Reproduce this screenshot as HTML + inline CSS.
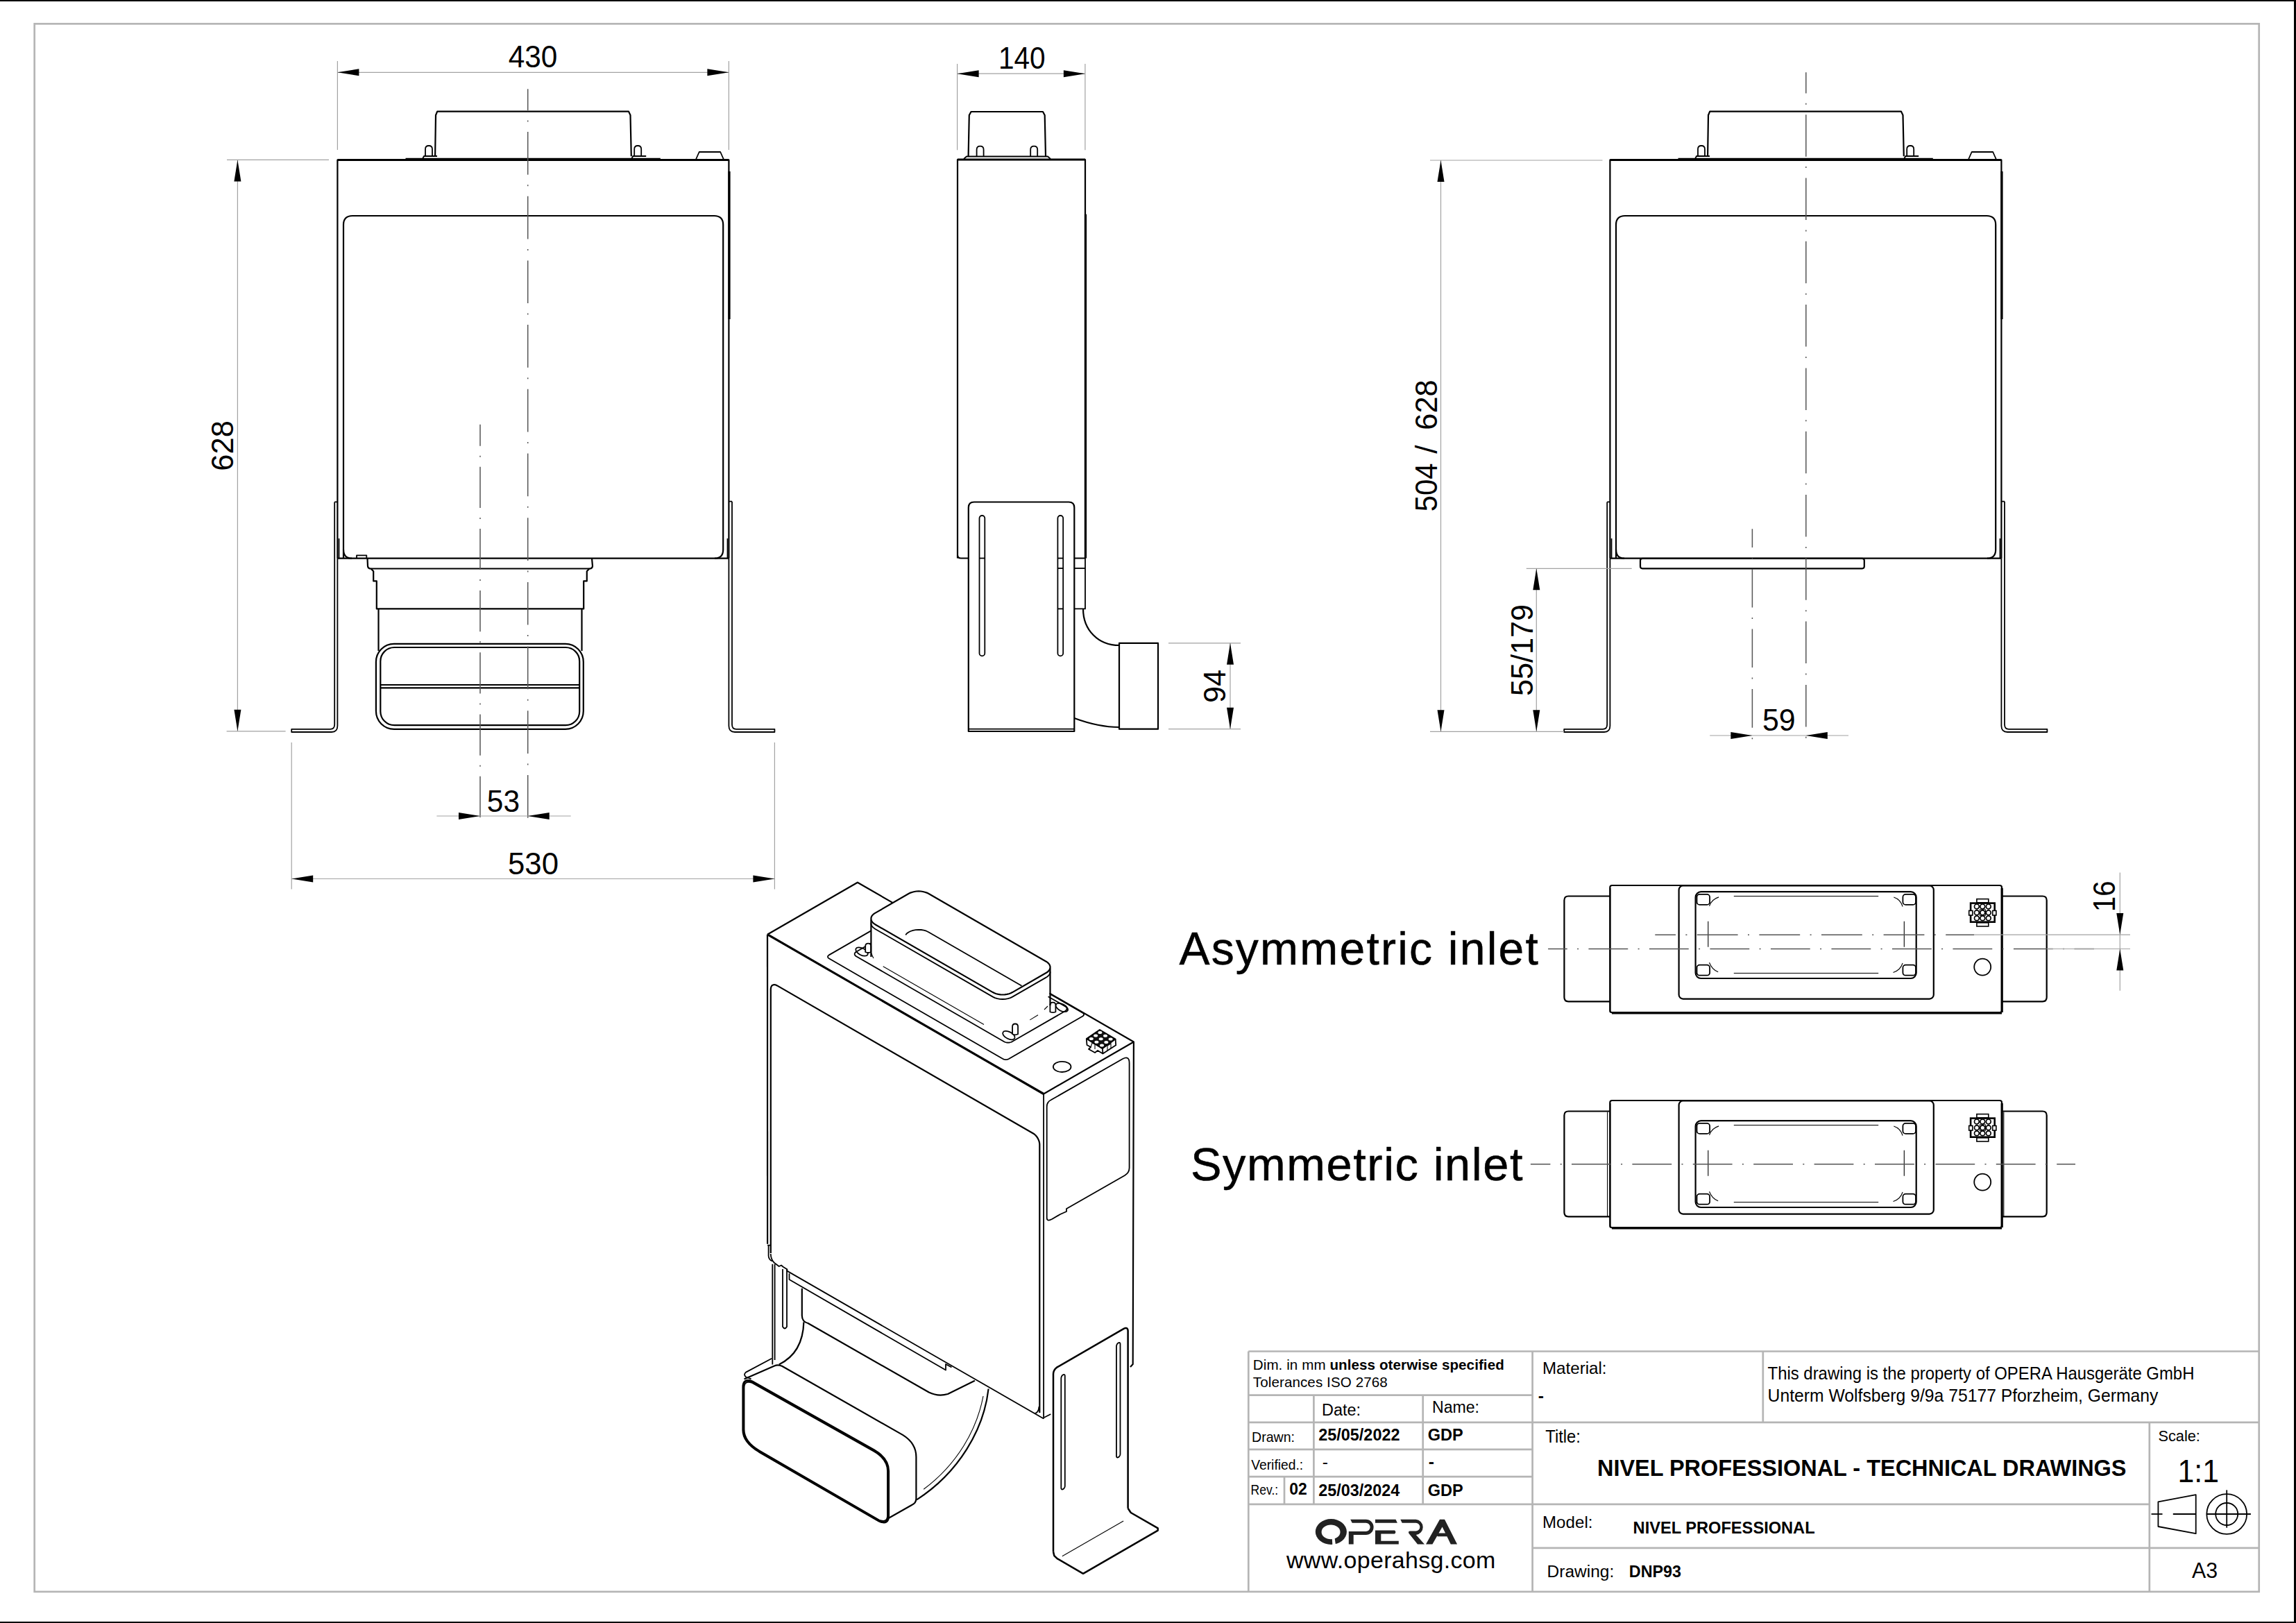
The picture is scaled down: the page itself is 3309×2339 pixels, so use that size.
<!DOCTYPE html>
<html><head><meta charset="utf-8"><style>
html,body{margin:0;padding:0;background:#fff;}
svg{display:block;}
text{font-family:"Liberation Sans",sans-serif;}
.o{stroke:#000;stroke-width:2.2;fill:none;stroke-linejoin:round;}
.o1{stroke:#000;stroke-width:1.8;fill:none;stroke-linejoin:round;}
.o3{stroke:#000;stroke-width:3.2;fill:none;}
.o25{stroke:#000;stroke-width:2.5;fill:none;stroke-linejoin:round;}
.t{stroke:#000;stroke-width:1.1;fill:none;}
.d{stroke:#a2a2a2;stroke-width:1.2;fill:none;}
.c{stroke:#555;stroke-width:1.5;fill:none;}
.g{stroke:#b5b5b5;stroke-width:2.7;fill:none;}
.ar{fill:#000;stroke:none;}
</style></head><body>
<svg width="3309" height="2339" viewBox="0 0 3309 2339">
<rect width="3309" height="2339" fill="#fff"/>
<rect x="0" y="0" width="3309" height="2" fill="#000"/>
<rect x="3306" y="0" width="3" height="2339" fill="#000"/>
<rect x="0" y="2337" width="3309" height="2" fill="#000"/>
<rect x="49.7" y="34.3" width="3206" height="2259.6" class="g" />
<g id="box">
<path d="M627.1 225.3 L628 166 L630.2 160.6 L906 160.6 L908.5 166 L909.8 225.3" class="o"/>
<path d="M584.5 228.6 L951.8 228.6" class="o1"/>
<path d="M613.0 225 L613.0 215 Q613.0 210 618.0 210 Q623.0 210 623.0 215 L623.0 225" class="o1"/>
<path d="M609.0 229 L611.0 225 L630.0 225" class="o1"/>
<path d="M914.2 225 L914.2 215 Q914.2 210 919.2 210 Q924.2 210 924.2 215 L924.2 225" class="o1"/>
<path d="M910.2 229 L912.2 225 L931.2 225" class="o1"/>
<path d="M1002.6 230.5 L1007.7 219 L1038.2 219 L1043.3 230.5" class="o1"/>
<path d="M486.4 804.7 L486.4 230.5 L1050.4 230.5 L1050.4 804.7" class="o"/>
<line x1="486.4" y1="230.5" x2="1050.4" y2="230.5" class="o3"/>
<line x1="1051.0" y1="247.0" x2="1051.0" y2="460.0" class="o3"/>
<path d="M495 804.7 L495 324 Q495 311 508 311 L1029.2 311 Q1042.2 311 1042.2 324 L1042.2 792 Q1042.2 804.7 1030 804.7" class="o"/>
<path d="M495 792 Q495 804.7 507 804.7" class="o"/>
<line x1="488.5" y1="776.0" x2="488.5" y2="804.7" class="o1"/>
<line x1="1048.5" y1="776.0" x2="1048.5" y2="804.7" class="o1"/>
<path d="M482.2 723.4 L486.4 723.4 M482.2 723.4 L482.2 1044 Q482.2 1050.8 476 1050.8 L420.2 1050.8 L420.2 1055 L478 1055 Q486.4 1055 486.4 1046 L486.4 804.7" class="o1"/>
<path d="M1055 722.7 L1050.4 722.7 M1055 722.7 L1055 1044 Q1055 1050.8 1061 1050.8 L1116.4 1050.8 L1116.4 1055 L1059 1055 Q1050.4 1055 1050.4 1046 L1050.4 804.7" class="o1"/>
</g>
<line x1="486.4" y1="804.7" x2="1050.4" y2="804.7" class="o"/>
<path d="M514 804.7 L514 800.4 L528.3 800.4 L528.3 804.7" class="o1"/>
<path d="M529.5 804.7 L530 816 Q530.5 819.5 534.5 819.5 L538.2 823.2 L538.2 837.4 L542.8 837.4 L542.8 877.4 L841.2 877.4 L841.2 837.4 L845.8 837.4 L845.8 823.2 L849.5 819.5 Q853.5 819.5 854 816 L853 804.7" class="o"/>
<line x1="534.5" y1="819.5" x2="849.5" y2="819.5" class="o"/>
<line x1="545.5" y1="877.4" x2="545.5" y2="938.0" class="o"/>
<line x1="838.5" y1="877.4" x2="838.5" y2="938.0" class="o"/>
<rect x="541.9" y="927.9" width="298.9" height="122.9" rx="26" class="o"/>
<rect x="548.3" y="933.0" width="286.9" height="112.2" rx="20" class="o"/>
<line x1="548.3" y1="987.0" x2="835.2" y2="987.0" class="o"/>
<line x1="548.3" y1="991.3" x2="835.2" y2="991.3" class="o"/>
<use href="#box" transform="translate(1834 0)"/>
<line x1="2320.4" y1="804.7" x2="2884.4" y2="804.7" class="o"/>
<rect x="2364.0" y="804.8" width="322.8" height="14.5" rx="3" class="o"/>
<line x1="760.7" y1="128.3" x2="760.7" y2="1191.0" class="c" stroke-dasharray="61.7 14.5 2 14.5" stroke-dashoffset="31"/>
<line x1="692.0" y1="611.8" x2="692.0" y2="1191.0" class="c" stroke-dasharray="59.2 14 2 14" stroke-dashoffset="28.3"/>
<line x1="2602.8" y1="104.2" x2="2602.8" y2="1075.0" class="c" stroke-dasharray="60.5 14.4 2 14.4" stroke-dashoffset="30.3"/>
<line x1="2525.4" y1="762.3" x2="2525.4" y2="1075.8" class="c" stroke-dasharray="55.6 14.5 2 14.5" stroke-dashoffset="29"/>
<line x1="486.4" y1="88.0" x2="486.4" y2="216.0" class="d"/>
<line x1="1050.4" y1="88.0" x2="1050.4" y2="216.0" class="d"/>
<line x1="486.4" y1="104.3" x2="1050.4" y2="104.3" class="d"/>
<polygon points="486.4,104.3 517.4,99.3 517.4,109.3" class="ar"/>
<polygon points="1050.4,104.3 1019.4,99.3 1019.4,109.3" class="ar"/>
<text x="768.1" y="97.3" font-size="44.5" font-weight="normal" text-anchor="middle" textLength="70.6" lengthAdjust="spacingAndGlyphs" fill="#000" >430</text>
<line x1="327.0" y1="230.4" x2="474.0" y2="230.4" class="d"/>
<line x1="326.6" y1="1053.8" x2="411.6" y2="1053.8" class="d"/>
<line x1="342.4" y1="230.4" x2="342.4" y2="1053.8" class="d"/>
<polygon points="342.4,230.4 337.4,261.4 347.4,261.4" class="ar"/>
<polygon points="342.4,1053.8 337.4,1022.8 347.4,1022.8" class="ar"/>
<text x="336.5" y="642.4" font-size="44.5" font-weight="normal" text-anchor="middle" textLength="72.8" lengthAdjust="spacingAndGlyphs" transform="rotate(-90 336.5 642.4)" fill="#000" >628</text>
<line x1="420.2" y1="1070.0" x2="420.2" y2="1281.6" class="d"/>
<line x1="1116.4" y1="1070.0" x2="1116.4" y2="1281.6" class="d"/>
<line x1="420.2" y1="1266.5" x2="1116.4" y2="1266.5" class="d"/>
<polygon points="420.2,1266.5 451.2,1261.5 451.2,1271.5" class="ar"/>
<polygon points="1116.4,1266.5 1085.4,1261.5 1085.4,1271.5" class="ar"/>
<text x="768.5" y="1260.0" font-size="44.5" font-weight="normal" text-anchor="middle" textLength="73.0" lengthAdjust="spacingAndGlyphs" fill="#000" >530</text>
<line x1="629.4" y1="1176.0" x2="822.7" y2="1176.0" class="d"/>
<polygon points="692.0,1176.0 661.0,1171.0 661.0,1181.0" class="ar"/>
<polygon points="760.7,1176.0 791.7,1171.0 791.7,1181.0" class="ar"/>
<text x="725.4" y="1169.5" font-size="44.5" font-weight="normal" text-anchor="middle" textLength="47.2" lengthAdjust="spacingAndGlyphs" fill="#000" >53</text>
<path d="M1395.6 225 L1396.8 166 L1399.5 161 L1503 161 L1505.7 166 L1507 225" class="o"/>
<path d="M1407.6 225 L1407.6 215.7 Q1407.6 210.7 1412.6 210.7 Q1417.6 210.7 1417.6 215.7 L1417.6 225" class="o1"/>
<path d="M1485.2 225 L1485.2 215.7 Q1485.2 210.7 1490.2 210.7 Q1495.2 210.7 1495.2 215.7 L1495.2 225" class="o1"/>
<path d="M1389 229 L1393 225.5 L1510 225.5 L1514 229" class="o1"/>
<path d="M1380 804.5 L1380 230 L1564 230 L1564 804.5" class="o"/>
<line x1="1380.0" y1="230.0" x2="1564.0" y2="230.0" class="o3"/>
<line x1="1564.5" y1="308.7" x2="1564.5" y2="804.5" class="o3"/>
<path d="M1380 800 Q1380 804.5 1385 804.5 L1395.8 804.5" class="o"/>
<path d="M1395.8 1054 L1395.8 731.5 Q1395.8 723.5 1403.8 723.5 L1540.3 723.5 Q1548.3 723.5 1548.3 731.5 L1548.3 1054 Z" class="o"/>
<line x1="1395.8" y1="1050.7" x2="1548.3" y2="1050.7" class="o1"/>
<rect x="1411.5" y="743.0" width="7.8" height="202.3" rx="3.9" class="o1"/>
<rect x="1524.4" y="743.0" width="7.8" height="202.3" rx="3.9" class="o1"/>
<line x1="1411.5" y1="804.5" x2="1419.3" y2="804.5" class="o1"/>
<line x1="1524.4" y1="804.5" x2="1532.2" y2="804.5" class="o1"/>
<line x1="1524.4" y1="819.0" x2="1532.2" y2="819.0" class="o1"/>
<line x1="1524.4" y1="877.4" x2="1532.2" y2="877.4" class="o1"/>
<path d="M1548.3 804.5 L1564 804.5 L1564 877.4 L1548.3 877.4" class="o1"/>
<line x1="1548.3" y1="819.0" x2="1564.0" y2="819.0" class="o1"/>
<path d="M1561 877.4 C1561 908 1583 930 1613 930" class="o"/>
<path d="M1548.3 1035 C1570 1043 1590 1048 1613 1048" class="o"/>
<rect x="1613.0" y="926.8" width="56.0" height="123.9" rx="0" class="o"/>
<line x1="1379.6" y1="92.0" x2="1379.6" y2="216.3" class="d"/>
<line x1="1563.9" y1="92.0" x2="1563.9" y2="216.3" class="d"/>
<line x1="1379.6" y1="106.2" x2="1563.9" y2="106.2" class="d"/>
<polygon points="1379.6,106.2 1410.6,101.2 1410.6,111.2" class="ar"/>
<polygon points="1563.9,106.2 1532.9,101.2 1532.9,111.2" class="ar"/>
<text x="1472.8" y="99.3" font-size="44.5" font-weight="normal" text-anchor="middle" textLength="67.7" lengthAdjust="spacingAndGlyphs" fill="#000" >140</text>
<line x1="1684.0" y1="926.8" x2="1788.0" y2="926.8" class="d"/>
<line x1="1684.0" y1="1050.7" x2="1788.0" y2="1050.7" class="d"/>
<line x1="1773.0" y1="926.8" x2="1773.0" y2="1050.7" class="d"/>
<polygon points="1773.0,926.8 1768.0,957.8 1778.0,957.8" class="ar"/>
<polygon points="1773.0,1050.7 1768.0,1019.7 1778.0,1019.7" class="ar"/>
<text x="1766.0" y="989.0" font-size="44.5" font-weight="normal" text-anchor="middle" textLength="48.0" lengthAdjust="spacingAndGlyphs" transform="rotate(-90 1766.0 989.0)" fill="#000" >94</text>
<line x1="2061.0" y1="231.0" x2="2309.5" y2="231.0" class="d"/>
<line x1="2061.0" y1="1054.3" x2="2254.0" y2="1054.3" class="d"/>
<line x1="2076.5" y1="231.0" x2="2076.5" y2="1054.3" class="d"/>
<polygon points="2076.5,231.0 2071.5,262.0 2081.5,262.0" class="ar"/>
<polygon points="2076.5,1054.3 2071.5,1023.3 2081.5,1023.3" class="ar"/>
<text x="2071.0" y="702.3" font-size="44.5" font-weight="normal" text-anchor="middle" textLength="70.0" lengthAdjust="spacingAndGlyphs" transform="rotate(-90 2071.0 702.3)" fill="#000" >504</text>
<text x="2071.0" y="647.6" font-size="44.5" font-weight="normal" text-anchor="middle" transform="rotate(-90 2071.0 647.6)" fill="#000" >/</text>
<text x="2071.0" y="583.5" font-size="44.5" font-weight="normal" text-anchor="middle" textLength="72.3" lengthAdjust="spacingAndGlyphs" transform="rotate(-90 2071.0 583.5)" fill="#000" >628</text>
<line x1="2199.8" y1="819.3" x2="2351.7" y2="819.3" class="d"/>
<line x1="2214.3" y1="819.3" x2="2214.3" y2="1054.3" class="d"/>
<polygon points="2214.3,819.3 2209.3,850.3 2219.3,850.3" class="ar"/>
<polygon points="2214.3,1054.3 2209.3,1023.3 2219.3,1023.3" class="ar"/>
<text x="2209.0" y="937.0" font-size="44.5" font-weight="normal" text-anchor="middle" textLength="132.0" lengthAdjust="spacingAndGlyphs" transform="rotate(-90 2209.0 937.0)" fill="#000" >55/179</text>
<line x1="2464.2" y1="1060.0" x2="2664.0" y2="1060.0" class="d"/>
<polygon points="2525.4,1060.0 2494.4,1055.0 2494.4,1065.0" class="ar"/>
<polygon points="2602.8,1060.0 2633.8,1055.0 2633.8,1065.0" class="ar"/>
<text x="2563.8" y="1053.0" font-size="44.5" font-weight="normal" text-anchor="middle" textLength="47.7" lengthAdjust="spacingAndGlyphs" fill="#000" >59</text>
<path d="M2320.3 1291.5 L2260.4 1291.5 Q2254.4 1291.5 2254.4 1297.5 L2254.4 1437.3 Q2254.4 1443.3 2260.4 1443.3 L2320.3 1443.3" class="o"/>
<path d="M2885 1291.5 L2943.7 1291.5 Q2949.7 1291.5 2949.7 1297.5 L2949.7 1437.3 Q2949.7 1443.3 2943.7 1443.3 L2885 1443.3" class="o"/>
<rect x="2320.3" y="1276.0" width="564.7" height="183.2" rx="3" class="o"/>
<line x1="2323.0" y1="1460.0" x2="2885.0" y2="1460.0" class="o3"/>
<line x1="2885.2" y1="1280.0" x2="2885.2" y2="1459.0" class="o3"/>
<line x1="2320.6" y1="1280.0" x2="2320.6" y2="1459.0" class="o1"/>
<rect x="2419.6" y="1276.5" width="367.2" height="163.1" rx="6" class="o"/>
<circle cx="2857.2" cy="1393.6" r="12" class="o1"/>
<g transform="translate(2857.3 1315.2)">
<rect x="-17.2" y="-13.6" width="34.6" height="27.1" fill="#fff" stroke="#000" stroke-width="2.6"/>
<rect x="-19.6" y="-2.8" width="5.2" height="6.6" fill="#fff" stroke="#000" stroke-width="1.6"/>
<rect x="14.4" y="-2.8" width="5.2" height="6.6" fill="#fff" stroke="#000" stroke-width="1.6"/>
<rect x="-8.4" y="-19.6" width="16.9" height="5.2" fill="#fff" stroke="#000" stroke-width="1.6"/>
<rect x="-8.4" y="14.6" width="16.9" height="5.2" fill="#fff" stroke="#000" stroke-width="1.6"/>
<circle cx="-8.4" cy="-8.8" r="3.4" fill="#fff" stroke="#000" stroke-width="1.7"/>
<circle cx="0" cy="-8.8" r="3.4" fill="#fff" stroke="#000" stroke-width="1.7"/>
<circle cx="8.5" cy="-8.8" r="3.4" fill="#fff" stroke="#000" stroke-width="1.7"/>
<circle cx="-8.4" cy="0" r="3.4" fill="#fff" stroke="#000" stroke-width="1.7"/>
<circle cx="0" cy="0" r="3.4" fill="#fff" stroke="#000" stroke-width="1.7"/>
<circle cx="8.5" cy="0" r="3.4" fill="#fff" stroke="#000" stroke-width="1.7"/>
<circle cx="-8.4" cy="8.1" r="3.4" fill="#fff" stroke="#000" stroke-width="1.7"/>
<circle cx="0" cy="8.1" r="3.4" fill="#fff" stroke="#000" stroke-width="1.7"/>
<circle cx="8.5" cy="8.1" r="3.4" fill="#fff" stroke="#000" stroke-width="1.7"/>
<path d="M-4.2 -4.4 L4.2 -4.4 M-4.2 4.2 L4.2 4.2 M-4.2 -4.4 L-4.2 4.2 M4.2 -4.4 L4.2 4.2" stroke="#000" stroke-width="1"/>
</g>
<rect x="2443.6" y="1285.2" width="318.1" height="124.8" rx="8" class="o"/>
<rect x="2445.5" y="1288.9" width="18.6" height="15.0" rx="4" class="o1"/>
<rect x="2742.4" y="1288.9" width="18.6" height="15.0" rx="4" class="o1"/>
<rect x="2445.5" y="1390.7" width="18.6" height="15.0" rx="4" class="o1"/>
<rect x="2742.4" y="1390.7" width="18.6" height="15.0" rx="4" class="o1"/>
<line x1="2498.8" y1="1291.5" x2="2707.2" y2="1291.5" class="t"/>
<line x1="2498.8" y1="1402.5" x2="2707.2" y2="1402.5" class="t"/>
<line x1="2461.8" y1="1327.7" x2="2461.8" y2="1364.8" class="t"/>
<line x1="2744.3" y1="1327.7" x2="2744.3" y2="1364.8" class="t"/>
<path d="M2463.5 1305.7 Q2467 1296 2477.1 1292.9" class="t"/>
<path d="M2742.1 1306.5 Q2739 1296 2729.3 1292.9" class="t"/>
<path d="M2463.5 1387.2 Q2467 1397 2476.2 1400.8" class="t"/>
<path d="M2742.1 1388 Q2739 1398 2728.5 1401.6" class="t"/>
<path d="M2320.3 1601.5 L2260.4 1601.5 Q2254.4 1601.5 2254.4 1607.5 L2254.4 1747.3 Q2254.4 1753.3 2260.4 1753.3 L2320.3 1753.3" class="o"/>
<path d="M2885 1601.5 L2943.7 1601.5 Q2949.7 1601.5 2949.7 1607.5 L2949.7 1747.3 Q2949.7 1753.3 2943.7 1753.3 L2885 1753.3" class="o"/>
<rect x="2320.3" y="1586.0" width="564.7" height="183.2" rx="3" class="o"/>
<line x1="2323.0" y1="1770.0" x2="2885.0" y2="1770.0" class="o3"/>
<line x1="2885.2" y1="1590.0" x2="2885.2" y2="1769.0" class="o3"/>
<line x1="2320.6" y1="1590.0" x2="2320.6" y2="1769.0" class="o1"/>
<rect x="2419.6" y="1586.5" width="367.2" height="163.1" rx="6" class="o"/>
<circle cx="2857.2" cy="1703.6" r="12" class="o1"/>
<g transform="translate(2857.3 1625.2)">
<rect x="-17.2" y="-13.6" width="34.6" height="27.1" fill="#fff" stroke="#000" stroke-width="2.6"/>
<rect x="-19.6" y="-2.8" width="5.2" height="6.6" fill="#fff" stroke="#000" stroke-width="1.6"/>
<rect x="14.4" y="-2.8" width="5.2" height="6.6" fill="#fff" stroke="#000" stroke-width="1.6"/>
<rect x="-8.4" y="-19.6" width="16.9" height="5.2" fill="#fff" stroke="#000" stroke-width="1.6"/>
<rect x="-8.4" y="14.6" width="16.9" height="5.2" fill="#fff" stroke="#000" stroke-width="1.6"/>
<circle cx="-8.4" cy="-8.8" r="3.4" fill="#fff" stroke="#000" stroke-width="1.7"/>
<circle cx="0" cy="-8.8" r="3.4" fill="#fff" stroke="#000" stroke-width="1.7"/>
<circle cx="8.5" cy="-8.8" r="3.4" fill="#fff" stroke="#000" stroke-width="1.7"/>
<circle cx="-8.4" cy="0" r="3.4" fill="#fff" stroke="#000" stroke-width="1.7"/>
<circle cx="0" cy="0" r="3.4" fill="#fff" stroke="#000" stroke-width="1.7"/>
<circle cx="8.5" cy="0" r="3.4" fill="#fff" stroke="#000" stroke-width="1.7"/>
<circle cx="-8.4" cy="8.1" r="3.4" fill="#fff" stroke="#000" stroke-width="1.7"/>
<circle cx="0" cy="8.1" r="3.4" fill="#fff" stroke="#000" stroke-width="1.7"/>
<circle cx="8.5" cy="8.1" r="3.4" fill="#fff" stroke="#000" stroke-width="1.7"/>
<path d="M-4.2 -4.4 L4.2 -4.4 M-4.2 4.2 L4.2 4.2 M-4.2 -4.4 L-4.2 4.2 M4.2 -4.4 L4.2 4.2" stroke="#000" stroke-width="1"/>
</g>
<rect x="2443.6" y="1615.2" width="318.1" height="124.8" rx="8" class="o"/>
<rect x="2445.5" y="1618.9" width="18.6" height="15.0" rx="4" class="o1"/>
<rect x="2742.4" y="1618.9" width="18.6" height="15.0" rx="4" class="o1"/>
<rect x="2445.5" y="1720.7" width="18.6" height="15.0" rx="4" class="o1"/>
<rect x="2742.4" y="1720.7" width="18.6" height="15.0" rx="4" class="o1"/>
<line x1="2498.8" y1="1621.5" x2="2707.2" y2="1621.5" class="t"/>
<line x1="2498.8" y1="1732.5" x2="2707.2" y2="1732.5" class="t"/>
<line x1="2461.8" y1="1657.7" x2="2461.8" y2="1694.8" class="t"/>
<line x1="2744.3" y1="1657.7" x2="2744.3" y2="1694.8" class="t"/>
<path d="M2463.5 1635.7 Q2467 1626 2477.1 1622.9" class="t"/>
<path d="M2742.1 1636.5 Q2739 1626 2729.3 1622.9" class="t"/>
<path d="M2463.5 1717.2 Q2467 1727 2476.2 1730.8" class="t"/>
<path d="M2742.1 1718 Q2739 1728 2728.5 1731.6" class="t"/>
<line x1="2316.6" y1="1602.5" x2="2316.6" y2="1753.0" class="t"/>
<line x1="2887.8" y1="1602.5" x2="2887.8" y2="1753.0" class="t"/>
<line x1="2385.3" y1="1347.2" x2="2845.0" y2="1347.2" class="c" stroke-dasharray="58.8 14.4 2 14.4" stroke-dashoffset="29.1"/>
<line x1="2845.0" y1="1347.2" x2="3070.0" y2="1347.2" class="d"/>
<line x1="2231.1" y1="1367.5" x2="3018.0" y2="1367.5" class="c" stroke-dasharray="56.8 14.35 2 14.35" stroke-dashoffset="29.15"/>
<line x1="2950.0" y1="1367.5" x2="3070.0" y2="1367.5" class="d"/>
<line x1="2205.9" y1="1677.7" x2="2991.0" y2="1677.7" class="c" stroke-dasharray="56.8 14.3 2 14.3" stroke-dashoffset="28.3"/>
<line x1="3055.3" y1="1257.4" x2="3055.3" y2="1427.7" class="d"/>
<polygon points="3055.3,1347.0 3050.3,1316.0 3060.3,1316.0" class="ar"/>
<polygon points="3055.3,1367.4 3050.3,1398.4 3060.3,1398.4" class="ar"/>
<text x="3047.9" y="1291.7" font-size="44.5" font-weight="normal" text-anchor="middle" textLength="44.6" lengthAdjust="spacingAndGlyphs" transform="rotate(-90 3047.9 1291.7)" fill="#000" >16</text>
<text x="1699.4" y="1390" font-size="66" textLength="517.4" lengthAdjust="spacing" stroke="#000" stroke-width="0.5">Asymmetric inlet</text>
<text x="1715.9" y="1701" font-size="66.8" textLength="478.6" lengthAdjust="spacing" stroke="#000" stroke-width="0.5">Symmetric inlet</text>
<line x1="1799.3" y1="1947.5" x2="3255.8" y2="1947.5" class="g"/>
<line x1="1799.3" y1="1947.5" x2="1799.3" y2="2294.0" class="g"/>
<line x1="2208.6" y1="1947.5" x2="2208.6" y2="2294.0" class="g"/>
<line x1="2540.8" y1="1947.5" x2="2540.8" y2="2050.0" class="g"/>
<line x1="1799.3" y1="2010.6" x2="2208.6" y2="2010.6" class="g"/>
<line x1="1799.3" y1="2049.9" x2="3255.8" y2="2049.9" class="g"/>
<line x1="1799.3" y1="2088.9" x2="2208.6" y2="2088.9" class="g"/>
<line x1="1799.3" y1="2128.2" x2="2208.6" y2="2128.2" class="g"/>
<line x1="1799.3" y1="2167.8" x2="3097.8" y2="2167.8" class="g"/>
<line x1="2208.6" y1="2230.8" x2="3255.8" y2="2230.8" class="g"/>
<line x1="1893.4" y1="2010.6" x2="1893.4" y2="2167.8" class="g"/>
<line x1="2050.7" y1="2010.6" x2="2050.7" y2="2167.8" class="g"/>
<line x1="1851.0" y1="2128.2" x2="1851.0" y2="2167.8" class="g"/>
<line x1="3097.8" y1="2049.9" x2="3097.8" y2="2294.0" class="g"/>
<text x="1805.8" y="1974.0" font-size="20.6" font-weight="normal" text-anchor="start" textLength="362.0" lengthAdjust="spacing" fill="#000" >Dim. in mm <tspan font-weight="bold">unless oterwise specified</tspan></text>
<text x="1805.8" y="1998.6" font-size="20.6" font-weight="normal" text-anchor="start" textLength="194.0" lengthAdjust="spacing" fill="#000" >Tolerances ISO 2768</text>
<text x="1905.0" y="2039.6" font-size="24.7" font-weight="normal" text-anchor="start" textLength="56.0" lengthAdjust="spacingAndGlyphs" fill="#000" >Date:</text>
<text x="2064.0" y="2035.7" font-size="24.7" font-weight="normal" text-anchor="start" textLength="68.0" lengthAdjust="spacingAndGlyphs" fill="#000" >Name:</text>
<text x="1804.0" y="2078.2" font-size="20.6" font-weight="normal" text-anchor="start" textLength="62.0" lengthAdjust="spacingAndGlyphs" fill="#000" >Drawn:</text>
<text x="1900.2" y="2075.7" font-size="24.7" font-weight="bold" text-anchor="start" textLength="117.3" lengthAdjust="spacingAndGlyphs" fill="#000" >25/05/2022</text>
<text x="2057.8" y="2075.7" font-size="24.7" font-weight="bold" text-anchor="start" textLength="51.0" lengthAdjust="spacingAndGlyphs" fill="#000" >GDP</text>
<text x="1803.2" y="2117.9" font-size="20.6" font-weight="normal" text-anchor="start" textLength="75.0" lengthAdjust="spacingAndGlyphs" fill="#000" >Verified.:</text>
<text x="1905.7" y="2115.0" font-size="24.7" font-weight="normal" text-anchor="start" fill="#000" >-</text>
<text x="2058.8" y="2115.0" font-size="24.7" font-weight="bold" text-anchor="start" fill="#000" >-</text>
<text x="1802.6" y="2154.0" font-size="20.6" font-weight="normal" text-anchor="start" textLength="39.6" lengthAdjust="spacingAndGlyphs" fill="#000" >Rev.:</text>
<text x="1858.3" y="2154.0" font-size="24.7" font-weight="bold" text-anchor="start" textLength="25.5" lengthAdjust="spacingAndGlyphs" fill="#000" >02</text>
<text x="1900.2" y="2155.6" font-size="24.7" font-weight="bold" text-anchor="start" textLength="117.0" lengthAdjust="spacingAndGlyphs" fill="#000" >25/03/2024</text>
<text x="2057.8" y="2155.6" font-size="24.7" font-weight="bold" text-anchor="start" textLength="51.0" lengthAdjust="spacingAndGlyphs" fill="#000" >GDP</text>
<g fill="#222" stroke="none">
<path fill-rule="evenodd" d="M1895.8 2207.5 A22.55 18.5 0 1 0 1940.9 2207.5 A22.55 18.5 0 1 0 1895.8 2207.5 Z M1904.6 2207.9 A13.45 10.3 0 1 0 1931.5 2207.9 A13.45 10.3 0 1 0 1904.6 2207.9 Z"/>
<polygon points="1919.6,2214 1923.2,2214 1925.2,2228 1920.4,2228" fill="#fff"/>
<path d="M1946.2 2189.8 L1968.5 2189.8 A11.1 11.1 0 0 1 1968.5 2212 L1950.7 2212 L1950.7 2225.6 L1943.8 2225.6 L1943.8 2207 L1968.5 2207 A6.15 6.15 0 0 0 1968.5 2194.7 L1948.7 2194.7 Z"/>
<path d="M1982 2189.8 L2011.5 2189.8 L2013.9 2194.7 L1982 2194.7 Z M1982 2205.5 L2010 2205.5 Q2012.8 2208 2010 2210.4 L1990.3 2210.4 L1990.3 2220.7 L2015.8 2220.7 L2015.8 2225.6 L1982 2225.6 Z"/>
<path d="M2018.3 2189.8 L2040.5 2189.8 A11.1 11.1 0 0 1 2040.8 2211.9 L2053 2225.6 L2043 2225.6 L2030.5 2210 Q2029 2206.5 2032 2206.5 L2040.5 2206.5 A5.9 5.9 0 0 0 2040.5 2194.7 L2020.7 2194.7 Z"/>
<path d="M2075 2189.8 L2082 2189.8 L2100.1 2225.6 L2090.8 2225.6 L2085.4 2214.3 L2072 2214.3 Q2069.5 2212 2072 2209.4 L2083.1 2209.4 L2078.6 2200.5 L2064.4 2225.6 L2055 2225.6 Z"/>
</g>
<text x="1854.0" y="2260.3" font-size="34" font-weight="normal" text-anchor="start" textLength="301.4" lengthAdjust="spacing" fill="#000" >www.operahsg.com</text>
<text x="2223.0" y="1980.0" font-size="24.4" font-weight="normal" text-anchor="start" textLength="92.5" lengthAdjust="spacingAndGlyphs" fill="#000" >Material:</text>
<text x="2216.7" y="2020.0" font-size="24.7" font-weight="bold" text-anchor="start" fill="#000" >-</text>
<text x="2547.6" y="1988.4" font-size="25" font-weight="normal" text-anchor="start" textLength="614.8" lengthAdjust="spacingAndGlyphs" fill="#000" >This drawing is the property of OPERA Hausgeräte GmbH</text>
<text x="2547.6" y="2020.0" font-size="25" font-weight="normal" text-anchor="start" textLength="562.8" lengthAdjust="spacingAndGlyphs" fill="#000" >Unterm Wolfsberg 9/9a 75177 Pforzheim, Germany</text>
<text x="2227.3" y="2078.9" font-size="25" font-weight="normal" text-anchor="start" textLength="50.6" lengthAdjust="spacingAndGlyphs" fill="#000" >Title:</text>
<text x="2302.0" y="2126.6" font-size="33" font-weight="bold" text-anchor="start" textLength="762.5" lengthAdjust="spacingAndGlyphs" fill="#000" >NIVEL PROFESSIONAL - TECHNICAL DRAWINGS</text>
<text x="3110.4" y="2076.7" font-size="22" font-weight="normal" text-anchor="start" textLength="60.5" lengthAdjust="spacingAndGlyphs" fill="#000" >Scale:</text>
<text x="3138.6" y="2135.5" font-size="46.6" font-weight="normal" text-anchor="start" textLength="59.4" lengthAdjust="spacingAndGlyphs" fill="#000" >1:1</text>
<text x="2223.0" y="2201.7" font-size="24" font-weight="normal" text-anchor="start" textLength="72.5" lengthAdjust="spacing" fill="#000" >Model:</text>
<text x="2353.6" y="2210.4" font-size="24.7" font-weight="bold" text-anchor="start" textLength="262.0" lengthAdjust="spacingAndGlyphs" fill="#000" >NIVEL PROFESSIONAL</text>
<text x="2229.6" y="2273.2" font-size="24.7" font-weight="normal" text-anchor="start" textLength="96.7" lengthAdjust="spacingAndGlyphs" fill="#000" >Drawing:</text>
<text x="2347.8" y="2273.0" font-size="24.7" font-weight="bold" text-anchor="start" textLength="75.2" lengthAdjust="spacingAndGlyphs" fill="#000" >DNP93</text>
<text x="3159.0" y="2273.7" font-size="31" font-weight="normal" text-anchor="start" textLength="37.0" lengthAdjust="spacingAndGlyphs" fill="#000" >A3</text>
<path d="M3110.4 2164.4 L3164.7 2154.2 L3164.7 2210.2 L3110.4 2200 Z" class="o1"/>
<line x1="3100.5" y1="2182.0" x2="3116.5" y2="2182.0" class="o1"/>
<line x1="3131.8" y1="2182.0" x2="3164.7" y2="2182.0" class="o1"/>
<circle cx="3209.2" cy="2182" r="28.9" class="o1"/>
<circle cx="3209.2" cy="2182" r="16" class="o1"/>
<line x1="3181.0" y1="2182.0" x2="3243.9" y2="2182.0" class="o1"/>
<line x1="3209.2" y1="2147.4" x2="3209.2" y2="2201.7" class="o1"/>
<path d="M1106.0 1346.7 L1504.1 1576.5" class="o3"/>
<path d="M1504.1 1576.5 L1633.9 1501.5 L1512.5 1431.4" class="o"/>
<path d="M1286.4 1300.9 L1235.9 1271.7 L1106.0 1346.7" class="o"/>
<path d="M1255.4 1341.4 L1194.7 1376.4 L1193.8 1377.1 L1193.2 1378.0 L1193.0 1378.9 L1193.2 1379.7 L1193.8 1380.6 L1194.7 1381.3 L1445.4 1526.0 L1446.7 1526.6 L1448.1 1526.9 L1449.7 1527.1 L1451.2 1526.9 L1452.6 1526.6 L1453.9 1526.0 L1560.4 1464.5 L1561.3 1463.8 L1561.9 1463.0 L1562.1 1462.1 L1561.9 1461.2 L1561.3 1460.4 L1560.4 1459.7 L1513.5 1432.6" class="o1"/>
<path d="M1255.3 1359.3 L1234.0 1371.7 L1232.7 1372.6 L1231.9 1373.7 L1231.6 1374.9 L1231.9 1376.1 L1232.7 1377.2 L1234.0 1378.2 L1447.2 1501.3 L1448.8 1502.0 L1450.8 1502.5 L1452.8 1502.7 L1454.9 1502.5 L1456.8 1502.0 L1458.5 1501.3 L1535.3 1457.0 L1536.5 1456.0 L1537.3 1454.9 L1537.6 1453.7 L1537.3 1452.5 L1536.5 1451.4 L1535.3 1450.4 L1510.6 1436.2" class="o1"/>
<ellipse cx="1242.0" cy="1371.5" rx="9.5" ry="5" transform="rotate(27 1242.0 1371.5)" class="o1"/>
<path d="M1247.2 1372.0 L1247.2 1363.7 Q1247.2 1359.7 1251.2 1359.7 Q1255.2 1359.7 1255.2 1363.7 L1255.2 1372.0 Q1251.2 1374.0 1247.2 1372.0 Z" fill="#fff" stroke="#000" stroke-width="1.8"/>
<ellipse cx="1453.9" cy="1492.1" rx="9.5" ry="5" transform="rotate(27 1453.9 1492.1)" class="o1"/>
<path d="M1459.1 1490.3 L1459.1 1479.5 Q1459.1 1475.5 1463.1 1475.5 Q1467.1 1475.5 1467.1 1479.5 L1467.1 1490.3 Q1463.1 1492.3 1459.1 1490.3 Z" fill="#fff" stroke="#000" stroke-width="1.8"/>
<ellipse cx="1530.3" cy="1452.0" rx="9.5" ry="5" transform="rotate(27 1530.3 1452.0)" class="o1"/>
<path d="M1513.4 1458.2 L1513.4 1448.7 Q1513.4 1444.7 1517.4 1444.7 Q1521.4 1444.7 1521.4 1448.7 L1521.4 1458.2 Q1517.4 1460.2 1513.4 1458.2 Z" fill="#fff" stroke="#000" stroke-width="1.8"/>
<path d="M1430.9 1430.1 L1433.3 1431.3 L1435.9 1432.2 L1438.8 1432.9 L1441.9 1433.3 L1445.0 1433.5 L1448.1 1433.3 L1451.2 1432.9 L1454.1 1432.2 L1456.7 1431.3 L1459.1 1430.1 L1507.7 1402.0 L1509.8 1400.7 L1511.4 1399.1 L1512.6 1397.5 L1513.3 1395.7 L1513.6 1393.9 L1513.3 1392.1 L1512.6 1390.3 L1511.4 1388.7 L1509.8 1387.1 L1507.7 1385.7 L1338.1 1287.8 L1335.7 1286.6 L1333.0 1285.7 L1330.1 1285.0 L1327.1 1284.5 L1324.0 1284.4 L1320.8 1284.5 L1317.8 1285.0 L1314.9 1285.7 L1312.2 1286.6 L1309.8 1287.8 L1261.2 1315.9 L1259.2 1317.2 L1257.5 1318.8 L1256.3 1320.4 L1255.6 1322.2 L1255.4 1324.0 L1255.6 1325.8 L1256.3 1327.6 L1257.5 1329.2 L1259.2 1330.8 L1261.2 1332.2 Z" class="o"/>
<path d="M1255.4 1330.5 L1255.5 1331.7 L1255.7 1332.8 L1256.2 1333.9 L1256.9 1334.9 L1257.7 1336.0 L1258.7 1336.9 L1259.9 1337.8 L1261.2 1338.7 L1430.9 1436.6 L1433.9 1438.1 L1437.4 1439.1 L1441.1 1439.8 L1445.0 1440.0 L1448.9 1439.8 L1452.6 1439.1 L1456.1 1438.1 L1459.1 1436.6 L1507.7 1408.6 L1509.1 1407.7 L1510.2 1406.8 L1511.2 1405.8 L1512.1 1404.8 L1512.7 1403.8 L1513.2 1402.7 L1513.5 1401.5 L1513.6 1400.4" class="o1"/>
<path d="M1305.2 1347.4 L1306.9 1345.3 L1309.4 1343.5 L1312.4 1342.0 L1315.8 1340.8 L1319.6 1340.1 L1323.6 1339.8 L1327.6 1340.0 L1331.4 1340.7 L1335.0 1341.7 L1338.1 1343.2 L1472.5 1420.8" class="o1"/>
<path d="M1255.4 1325.6 L1255.4 1379.0" class="o"/>
<path d="M1513.5 1395.5 L1513.5 1448.9" class="o"/>
<path d="M1256 1374 Q1257 1378 1259 1381" class="t"/>
<path d="M1272.7 1392.8 L1418 1476.5" class="t"/>
<path d="M1484.3 1469.9 L1496 1462.7" class="t"/>
<path d="M1510 1450 L1505 1455" class="t"/>
<polygon points="1565.8,1497.0 1584.9,1484.0 1607.6,1497.6 1588.7,1511.2" fill="#111" stroke="#000" stroke-width="1.8" stroke-linejoin="round"/>
<ellipse cx="1588.0" cy="1506.6" rx="3" ry="2" fill="#fff"/>
<ellipse cx="1594.3" cy="1502.0" rx="3" ry="2" fill="#fff"/>
<ellipse cx="1600.6" cy="1497.5" rx="3" ry="2" fill="#fff"/>
<ellipse cx="1580.4" cy="1501.8" rx="3" ry="2" fill="#fff"/>
<ellipse cx="1586.7" cy="1497.3" rx="3" ry="2" fill="#fff"/>
<ellipse cx="1593.0" cy="1492.8" rx="3" ry="2" fill="#fff"/>
<ellipse cx="1572.8" cy="1497.1" rx="3" ry="2" fill="#fff"/>
<ellipse cx="1579.1" cy="1492.6" rx="3" ry="2" fill="#fff"/>
<ellipse cx="1585.4" cy="1488.0" rx="3" ry="2" fill="#fff"/>
<path d="M1565.8 1497 L1566.5 1506 L1572 1509 L1569 1512 L1578 1517 L1582 1514 L1589.4 1518.5 L1589 1511.2 M1589.4 1518.5 L1608.2 1506.2 L1607.6 1497.6" class="o1"/>
<path d="M1572 1509 L1574 1503 L1578 1505 L1578 1512 M1596 1514 L1596 1507 L1601 1504 L1601 1511" class="t"/>
<ellipse cx="1530.7" cy="1537.4" rx="12.8" ry="7.6" class="o1"/>
<path d="M1106.0 1346.7 L1106.1 1792.8" class="o"/>
<path d="M1106.1 1794.6 L1110.7 1794.6 M1107.6 1795 L1107.6 1810 Q1108 1815.5 1113 1817.5 M1110.7 1807 Q1111 1815 1116 1820 L1122.7 1825 L1126 1823.5 L1129 1826 L1134.4 1829.2 L1134.4 1831.6 L1504.1 2044.5" class="o1"/>
<path d="M1110.8 1805.9 L1110.8 1425.7 L1111.0 1423.7 L1111.5 1422.0 L1112.3 1420.7 L1113.5 1419.7 L1114.9 1419.2 L1116.5 1419.2 L1118.2 1419.5 L1120.0 1420.4 L1489.1 1633.5 L1490.9 1634.7 L1492.6 1636.3 L1494.2 1638.2 L1495.6 1640.3 L1496.7 1642.6 L1497.6 1644.9 L1498.1 1647.2 L1498.3 1649.4 L1498.3 2036.1" class="o"/>
<path d="M1504.1 1576.5 L1504.1 2044.5" class="o1"/>
<path d="M1497.5 2027 Q1497 2036 1491 2037" class="o1"/>
<path d="M1137.5 1835.3 L1137.5 1844 L1363 1974.5 L1363 1966 L1371.5 1970.5" class="o1"/>
<path d="M1633.9 1501.5 L1632.7 1966.0 L1629.0 1970.0" class="o"/>
<path d="M1508.7 1755 L1508.7 1595 Q1508.7 1588 1515 1585 L1618 1526 Q1627.6 1521 1627.6 1532 L1627.6 1683 Q1627.6 1690 1621 1694 L1537 1742 L1537 1746 L1528 1750 L1516 1757 Q1508.7 1761 1508.7 1755" class="o1"/>
<path d="M1504.5 2043 L1514.3 2038" class="o1"/>
<path d="M1518.0 2236.4 L1518.0 1980.1 L1518.2 1978.3 L1518.7 1976.4 L1519.6 1974.5 L1520.8 1972.8 L1522.2 1971.4 L1523.6 1970.3 L1620.0 1914.7 L1621.4 1914.1 L1622.8 1913.9 L1624.0 1914.3 L1624.9 1915.1 L1625.4 1916.4 L1625.6 1917.9 L1625.6 2173.8" class="o25"/>
<path d="M1518.0 2236.4 L1519.4 2242.1 L1523.6 2246.2 L1561.0 2267.8 L1668.7 2205.6 L1668.7 2202.4 L1629.8 2180.0 L1625.6 2173.8" class="o25"/>
<path d="M1530.9 2242.8 L1619.1 2191.9" class="t"/>
<path d="M1532.1 1981.3 L1532.9 1981.0 L1533.7 1981.0 L1534.3 1981.3 L1534.7 1982.0 L1534.8 1982.9 L1534.8 2141.4 L1534.7 2142.5 L1534.3 2143.6 L1533.7 2144.6 L1532.9 2145.5 L1532.1 2146.2 L1532.1 2146.2 L1531.2 2146.5 L1530.5 2146.5 L1529.9 2146.1 L1529.5 2145.5 L1529.3 2144.6 L1529.3 1986.1 L1529.5 1985.0 L1529.9 1983.9 L1530.5 1982.8 L1531.2 1981.9 L1532.1 1981.3 Z" class="o1"/>
<path d="M1611.8 1935.3 L1612.6 1935.0 L1613.4 1935.0 L1614.0 1935.3 L1614.4 1936.0 L1614.5 1936.9 L1614.5 2095.4 L1614.4 2096.5 L1614.0 2097.6 L1613.4 2098.6 L1612.6 2099.5 L1611.8 2100.2 L1611.8 2100.2 L1610.9 2100.5 L1610.2 2100.5 L1609.5 2100.1 L1609.2 2099.5 L1609.0 2098.6 L1609.0 1940.1 L1609.2 1939.0 L1609.5 1937.9 L1610.2 1936.8 L1610.9 1935.9 L1611.8 1935.3 Z" class="o1"/>
<path d="M1113.3 1821.8 L1113.3 1966.4 M1116.6 1822 L1116.6 1960" class="o1"/>
<path d="M1128 1829 L1128 1912 Q1131 1917 1134 1912 L1134 1829" class="o1"/>
<path d="M1112.3 1957.7 L1075 1977.6 Q1071 1981 1075 1984.5 L1082.6 1987.3" class="o1"/>
<path d="M1155.8 1856.7 L1155.8 1896 Q1156 1905 1164.5 1907 L1338.7 2006.5 Q1352 2013 1366 2009 L1404.9 1989.7" class="o"/>
<path d="M1158.4 1905.4 Q1157 1950 1122.7 1966.4" class="o"/>
<path d="M1424.6 2001.5 C1418 2060 1382 2122 1321.2 2161.3" class="o"/>
<path d="M1417 2012 C1408 2060 1380 2110 1331.2 2146.3" class="t"/>
<path d="M1072.5 1987.4 L1116 1968.5 Q1121 1966 1127 1968.8 L1301.3 2068.1 Q1320.4 2080 1320.4 2099.7 L1320.4 2160 Q1320.4 2166 1314 2169 L1280.5 2188" class="o"/>
<path d="M1071 2061 L1071 1999 Q1071 1986 1084 1991 L1259.7 2089.8 Q1280.5 2102 1280.5 2120 L1280.5 2184.6 Q1280.5 2198 1267 2192 L1094 2092 Q1071 2078 1071 2061 Z" class="o3"/>
<path d="M1072.5 2060 L1072.5 2000 Q1072.5 1989 1084 1993 L1259 2091.5 Q1279 2103 1279 2120 L1279 2184 Q1279 2195 1267 2190.5 L1094.5 2090.5 Q1072.5 2077.5 1072.5 2060 Z" class="o1"/>
</svg></body></html>
